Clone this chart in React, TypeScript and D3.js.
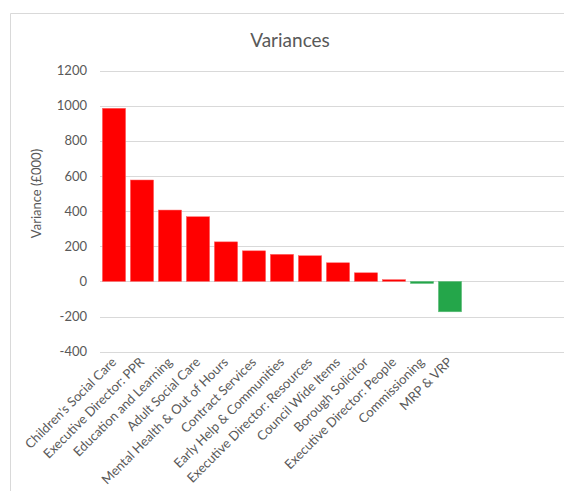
import * as React from "react";
import * as d3 from "d3";

const categories = [
    "Children's Social Care",
    "Executive Director: PPR",
    "Education and Learning",
    "Adult Social Care",
    "Mental Health & Out of Hours",
    "Contract Services",
    "Early Help & Communities",
    "Executive Director: Resources",
    "Council Wide Items",
    "Borough Solicitor",
    "Executive Director: People",
    "Commissioning",
    "MRP & VRP",
];
const variances = [985, 577, 406, 368, 225, 174, 154, 146, 106, 49, 10, -12, -173];
const yTicks = [-400, -200, 0, 200, 400, 600, 800, 1000, 1200];

const W = 564;
const H = 491;
const textColor = "#595959";
const gridColor = "#d9d9d9";
const font = "Lato, 'Open Sans', sans-serif";

export default function App() {
    const x = d3.scaleBand<string>()
        .domain(categories)
        .range([100, 100 + 28 * categories.length])
        .paddingInner(0.17)
        .paddingOuter(0.085);

    const y = d3.scaleLinear().domain([-400, 1200]).range([351.7, 70.5]);

    return <svg width={W} height={H} style={{ position: "absolute", left: 0, top: 0 }} fontFamily={font}>
        <rect x={0} y={0} width={W} height={H} fill="#fff" />
        {/* chart frame, cropped on the right and bottom */}
        <path d={`M10.5,${H} V13.5 H${W}`} fill="none" stroke={gridColor} strokeWidth={1} />

        <text x={290} y={47} textAnchor="middle" fontSize={19} fill={textColor}>Variances</text>

        {yTicks.map(t => <g key={t}>
            <line x1={100} x2={W} y1={Math.round(y(t)) + 0.5} y2={Math.round(y(t)) + 0.5} stroke={gridColor} strokeWidth={1} />
            <text x={87} y={y(t)} dy="0.35em" textAnchor="end" fontSize={13} fill={textColor}>{t}</text>
        </g>)}

        <text transform={`translate(41, ${y(500)}) rotate(-90)`} textAnchor="middle" fontSize={13} fill={textColor}>Variance (£000)</text>

        {variances.map((v, i) => {
            const top = y(Math.max(0, v));
            const bottom = y(Math.min(0, v));
            return <rect key={i}
                x={x(categories[i])}
                y={top}
                width={x.bandwidth()}
                height={Math.max(1, bottom - top)}
                fill={v >= 0 ? "#ff0000" : "#24a64a"}
                stroke={v >= 0 ? "#ff6666" : "#66c080"}
                strokeWidth={0.5}
            />;
        })}

        {categories.map(c => {
            const cx = (x(c) || 0) + x.bandwidth() / 2 + 3;
            return <text key={c}
                transform={`translate(${cx}, 363) rotate(-45)`}
                textAnchor="end"
                fontSize={13}
                fill={textColor}>{c}</text>;
        })}
    </svg>;
}
